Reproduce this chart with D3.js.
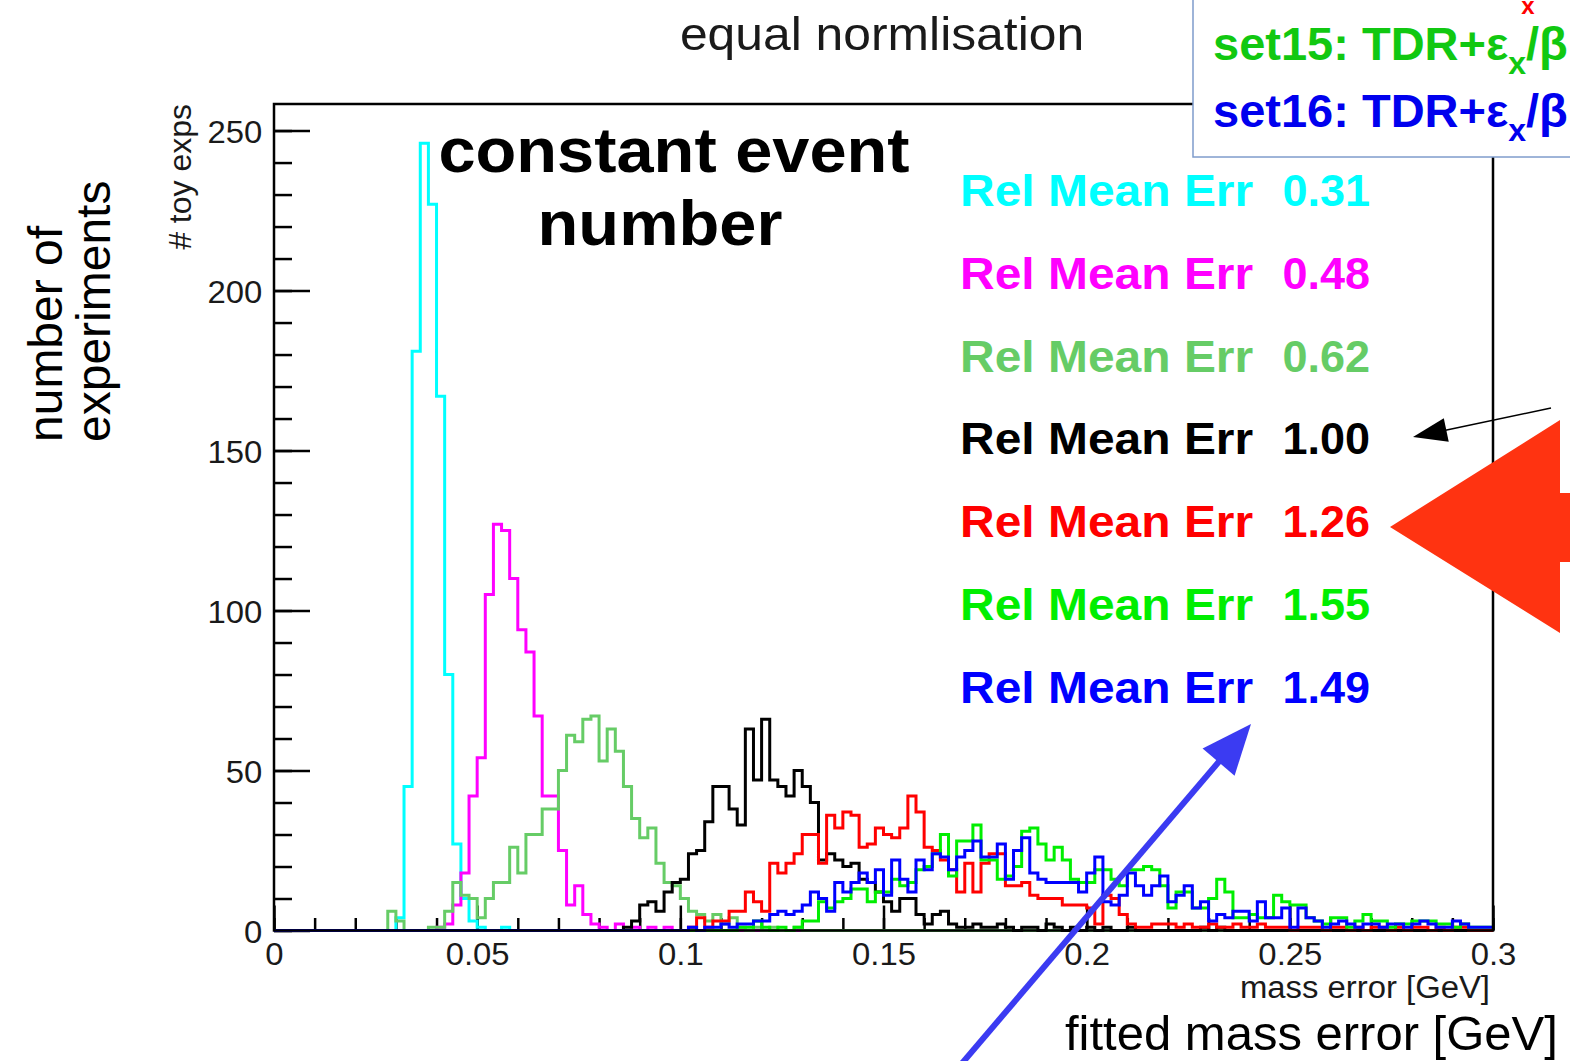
<!DOCTYPE html>
<html>
<head>
<meta charset="utf-8">
<script src="https://cdn.jsdelivr.net/npm/d3@7"></script>
<style>
  html, body { margin: 0; padding: 0; background: #fff; overflow: hidden; }
  svg { display: block; font-family: "Liberation Sans", Arial, Helvetica, sans-serif; }
</style>
</head>
<body>
<div id="chart"></div>
<script>
// every histogram: 150 bins of 0.002 GeV from 0 to 0.3
const binWidth = 0.002;
const nBins = 150;

// counts per bin, each list begins at its first bin index
const cyanFirstBin = 15;
const cyanCounts = [4, 45, 181, 246, 227, 167, 80, 27, 10, 3, 1, 0, 0, 1];

const magentaFirstBin = 20;
const magentaCounts = [1, 2, 8, 18, 42, 54, 105, 127, 125, 110, 94, 87, 67, 42, 42, 25, 8, 14, 5, 2,
  1, 0, 2, 0, 1, 0, 1, 0, 1];

const lightGreenFirstBin = 13;
const lightGreenCounts = [0, 6, 3, 0, 0, 0, 1, 1, 6, 15, 11, 10, 4, 10, 15, 15, 26, 18, 30, 30,
  38, 38, 50, 61, 59, 66, 67, 53, 63, 56, 45, 35, 29, 32, 21, 15, 14, 10, 6, 5,
  3, 5, 2, 4, 1, 0, 1, 0, 1, 0, 0, 1];

const blackFirstBin = 42;
const blackCounts = [0, 1, 3, 8, 9, 6, 12, 15, 16, 24, 25, 34, 45, 45, 38, 33, 63, 47, 66, 47,
  45, 42, 50, 45, 40, 22, 24, 22, 20, 21, 16, 15, 12, 9, 6, 10, 10, 5, 2, 5,
  6, 2, 1, 1, 2, 1, 1, 2, 1, 0, 1, 1, 0, 2, 1, 0, 1, 0, 1, 0,
  1, 0, 0, 1, 0, 0, 0, 0, 0, 0, 0, 0, 1, 0, 1];

const redFirstBin = 50;
const redCounts = [0, 1, 4, 1, 3, 3, 6, 6, 12, 9, 6, 21, 18, 21, 24, 30, 30, 21, 36, 32,
  37, 36, 26, 27, 32, 30, 29, 32, 42, 37, 26, 25, 22, 19, 12, 21, 12, 21, 24, 24,
  14, 14, 15, 11, 10, 10, 10, 8, 8, 8, 7, 2, 11, 10, 5, 2, 1, 1, 2, 2,
  2, 1, 2, 1, 1, 2, 1, 1, 2, 1, 1, 2, 1, 1, 1, 0, 1, 1, 1, 0,
  1, 1, 0, 1, 0, 1, 1, 0, 1, 0, 1, 1, 0, 1, 0, 1, 1];

const greenFirstBin = 56;
const greenCounts = [0, 1, 1, 3, 1, 0, 1, 0, 1, 3, 3, 9, 7, 9, 10, 13, 13, 9, 12, 12,
  16, 14, 15, 19, 20, 24, 30, 17, 28, 28, 33, 22, 22, 16, 17, 20, 31, 32, 27, 22,
  26, 22, 16, 15, 15, 19, 19, 16, 14, 19, 19, 20, 19, 14, 7, 12, 12, 7, 7, 10,
  16, 12, 4, 4, 5, 4, 4, 11, 9, 8, 8, 4, 3, 2, 4, 4, 1, 3, 5, 3,
  3, 1, 2, 2, 3, 3, 3, 2, 2, 1, 2, 1, 1, 1];

const blueFirstBin = 50;
const blueCounts = [0, 1, 0, 1, 1, 2, 1, 2, 2, 3, 3, 5, 6, 5, 6, 8, 12, 10, 6, 15,
  12, 15, 18, 15, 19, 11, 22, 16, 12, 22, 19, 24, 23, 19, 23, 25, 28, 23, 23, 27,
  16, 25, 29, 18, 16, 15, 15, 15, 15, 12, 18, 23, 9, 8, 11, 18, 14, 11, 14, 17,
  9, 11, 14, 7, 9, 3, 5, 4, 6, 6, 3, 9, 4, 4, 7, 1, 7, 4, 3, 1,
  2, 3, 2, 1, 2, 2, 1, 2, 2, 1, 2, 3, 2, 1, 1, 3, 2, 1, 1, 1];

// drawing order and labels of the seven settings
const seriesColors = ['#00ffff', '#ff00ff', '#66cc66', '#000000', '#ff0000', '#00ee00', '#0000ff'];
const relMeanErr = ['0.31', '0.48', '0.62', '1.00', '1.26', '1.55', '1.49'];

const xTicks = [0, 0.05, 0.1, 0.15, 0.2, 0.25, 0.3];
const yTicks = [0, 50, 100, 150, 200, 250];

const W = 1570, H = 1061;
const frame = { left: 274, right: 1493, top: 104, bottom: 930.5 };
const stretch = 1.06; // the ROOT picture is a little wider than tall

const svg = d3.select('#chart').append('svg')
  .attr('width', W)
  .attr('height', H);

const x = d3.scaleLinear().domain([0, 0.3]).range([frame.left, frame.right]);
const y = d3.scaleLinear().domain([0, 258.3]).range([frame.bottom, frame.top]);

// full 150 bin arrays
function fillBins(first, counts) {
  const bins = new Array(nBins).fill(0);
  counts.forEach((c, i) => { if (first + i < nBins) bins[first + i] = c; });
  return bins;
}
const series = [
  fillBins(cyanFirstBin, cyanCounts),
  fillBins(magentaFirstBin, magentaCounts),
  fillBins(lightGreenFirstBin, lightGreenCounts),
  fillBins(blackFirstBin, blackCounts),
  fillBins(redFirstBin, redCounts),
  fillBins(greenFirstBin, greenCounts),
  fillBins(blueFirstBin, blueCounts)
];

// text placed at (px, py) and widened like the ROOT picture
function rootText(px, py, sx) {
  return svg.append('text')
    .attr('transform', `translate(${px},${py}) scale(${sx},1)`);
}

// title
rootText(882, 50, stretch)
  .attr('text-anchor', 'middle')
  .attr('font-size', 47)
  .attr('fill', '#1a1a1a')
  .text('equal normlisation');

// axes (ticks inside the frame, like ROOT)
function styleAxis(g) {
  g.select('.domain').remove();
  g.selectAll('.tick line').attr('stroke', '#000').attr('stroke-width', 2.5);
  g.selectAll('.tick text')
    .attr('fill', '#1a1a1a')
    .attr('font-size', 31)
    .attr('transform', `scale(${stretch},1)`);
}

svg.append('g')
  .attr('transform', `translate(${frame.left},0)`)
  .call(d3.axisLeft(y).tickValues(d3.range(0, 258, 10)).tickSize(-18).tickFormat(''))
  .call(styleAxis);
svg.append('g')
  .attr('transform', `translate(${frame.left},0)`)
  .call(d3.axisLeft(y).tickValues(yTicks).tickSize(-36).tickPadding(11).tickFormat(d3.format('d')))
  .call(styleAxis)
  .selectAll('.tick text').attr('dy', '0.4em');

svg.append('g')
  .attr('transform', `translate(0,${frame.bottom})`)
  .call(d3.axisBottom(x).tickValues(d3.range(0, 31).map(i => i / 100)).tickSize(-12.5).tickFormat(''))
  .call(styleAxis);
svg.append('g')
  .attr('transform', `translate(0,${frame.bottom})`)
  .call(d3.axisBottom(x).tickValues(xTicks).tickSize(-25).tickPadding(13).tickFormat(d => String(d)))
  .call(styleAxis);

// axis titles
svg.append('text')
  .attr('transform', `translate(191,${frame.top}) rotate(-90)`)
  .attr('text-anchor', 'end')
  .attr('font-size', 32)
  .attr('fill', '#1a1a1a')
  .text('# toy exps');
rootText(1490, 998, stretch)
  .attr('text-anchor', 'end')
  .attr('font-size', 31)
  .attr('fill', '#1a1a1a')
  .text('mass error [GeV]');

// histograms as step outlines
const step = d3.line()
  .x(d => x(d[0]))
  .y(d => y(d[1]))
  .curve(d3.curveStepAfter);

const histGroup = svg.append('g');
series.forEach((bins, i) => {
  const pts = bins.map((c, k) => [k * binWidth, c]);
  pts.push([nBins * binWidth, bins[nBins - 1]]);
  histGroup.append('path')
    .attr('d', step(pts))
    .attr('fill', 'none')
    .attr('stroke', seriesColors[i])
    .attr('stroke-width', 3)
    .attr('stroke-linejoin', 'miter');
});

// frame
svg.append('rect')
  .attr('x', frame.left).attr('y', frame.top)
  .attr('width', frame.right - frame.left)
  .attr('height', frame.bottom - frame.top)
  .attr('fill', 'none')
  .attr('stroke', '#000')
  .attr('stroke-width', 2.5);

// "constant event number"
rootText(674, 172, stretch)
  .attr('text-anchor', 'middle')
  .attr('font-size', 63).attr('font-weight', 'bold')
  .text('constant event');
rootText(660, 245, stretch)
  .attr('text-anchor', 'middle')
  .attr('font-size', 63).attr('font-weight', 'bold')
  .text('number');

// relative mean error labels
relMeanErr.forEach((v, i) => {
  const yy = 206 + i * 82.8;
  rootText(960, yy, 1.066)
    .attr('font-size', 45).attr('font-weight', 'bold')
    .attr('fill', seriesColors[i])
    .text('Rel Mean Err');
  rootText(1370, yy, 1)
    .attr('text-anchor', 'end')
    .attr('font-size', 45).attr('font-weight', 'bold')
    .attr('fill', seriesColors[i])
    .text(v);
});

// slide annotations
svg.append('text')
  .attr('transform', 'translate(62,442) rotate(-90)')
  .attr('font-size', 48)
  .text('number of');
svg.append('text')
  .attr('transform', 'translate(110,442) rotate(-90)')
  .attr('font-size', 48)
  .text('experiments');
svg.append('text')
  .attr('x', 1065).attr('y', 1050)
  .attr('font-size', 49)
  .text('fitted mass error [GeV]');

// legend box, cut at the right edge
svg.append('rect')
  .attr('x', 1193).attr('y', -5)
  .attr('width', 420).attr('height', 162)
  .attr('fill', '#fff')
  .attr('stroke', '#7f9ccc')
  .attr('stroke-width', 1.5);
svg.append('text')
  .attr('x', 1528).attr('y', 14)
  .attr('text-anchor', 'middle')
  .attr('font-size', 24).attr('font-weight', 'bold')
  .attr('fill', '#ff0000')
  .text('x');
[['set15', '#11c811', 60], ['set16', '#0000ee', 127]].forEach(([name, col, base]) => {
  const t = svg.append('text')
    .attr('x', 1213).attr('y', base)
    .attr('font-size', 47).attr('font-weight', 'bold')
    .attr('fill', col);
  t.append('tspan').text(`${name}: TDR+ε`);
  t.append('tspan').attr('font-size', 32).attr('dy', 14).text('x');
  t.append('tspan').attr('dy', -14).text('/β');
});

// arrows
function arrow(tail, tip, headLen, headHalf, width, color) {
  const dx = tip[0] - tail[0], dy = tip[1] - tail[1];
  const len = Math.hypot(dx, dy);
  const ux = dx / len, uy = dy / len;
  const bx = tip[0] - ux * headLen, by = tip[1] - uy * headLen;
  svg.append('line')
    .attr('x1', tail[0]).attr('y1', tail[1])
    .attr('x2', bx + ux * 2).attr('y2', by + uy * 2)
    .attr('stroke', color).attr('stroke-width', width);
  svg.append('path')
    .attr('d', `M${tip[0]},${tip[1]}L${bx - uy * headHalf},${by + ux * headHalf}L${bx + uy * headHalf},${by - ux * headHalf}Z`)
    .attr('fill', color);
}
arrow([1551, 408], [1413, 437], 34, 12, 1.5, '#000');
arrow([958, 1068], [1251, 724], 50, 21, 6, '#3b3bf2');

// big red block arrow pointing at the 1.26 label
svg.append('path')
  .attr('d', 'M1390,527L1560,420L1560,493L1580,493L1580,562L1560,562L1560,633Z')
  .attr('fill', '#ff3311');
</script>
</body>
</html>
